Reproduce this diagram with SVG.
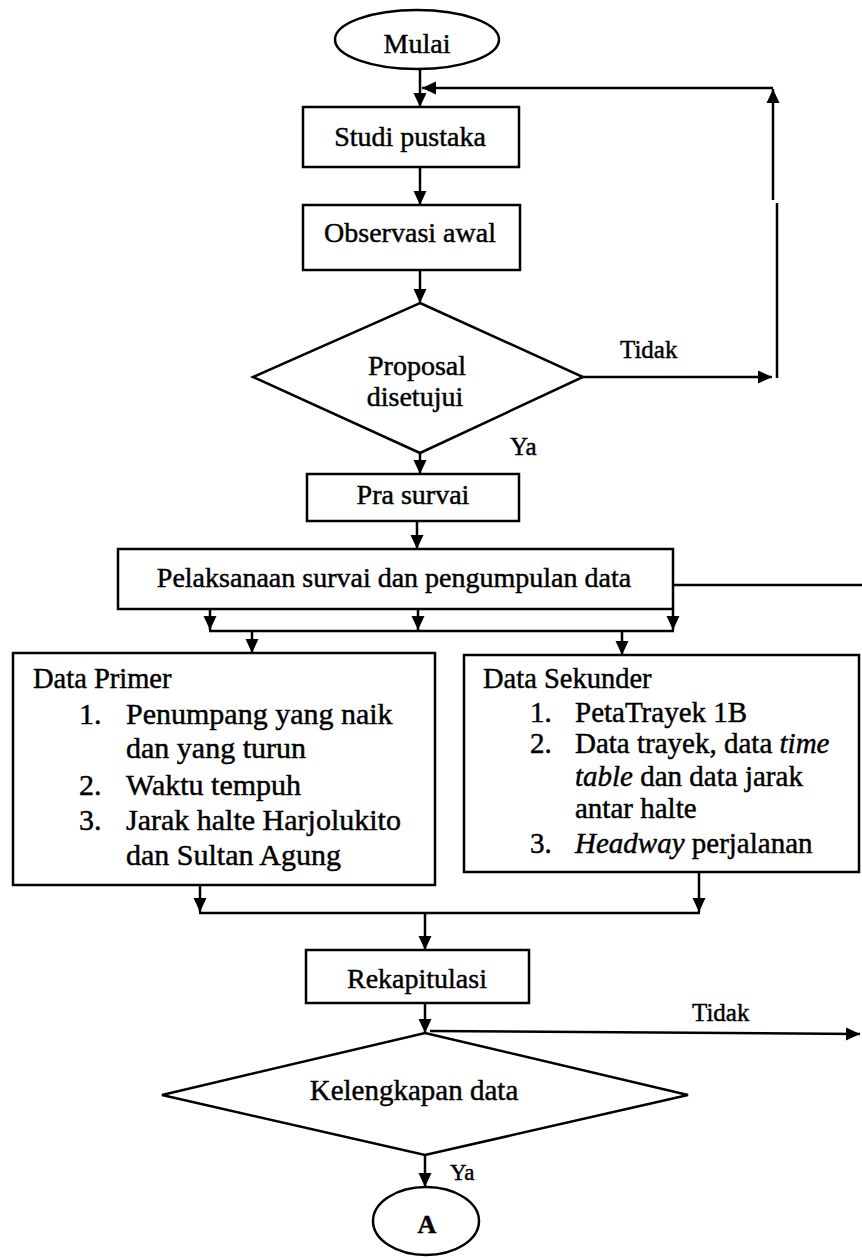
<svg xmlns="http://www.w3.org/2000/svg" width="862" height="1258" viewBox="0 0 862 1258">
<style>
.s{fill:#fff;stroke:#000;stroke-width:2.5}
.c{fill:none;stroke:#000;stroke-width:2.5}
text{font-family:"Liberation Serif","Times New Roman",serif;fill:#000;stroke:#000;stroke-width:0.45}
.m{font-size:28px;text-anchor:middle}
.l{font-size:25px}
.h{font-size:28.5px}
.p{font-size:30px}
.q{font-size:29px}
</style>
<defs>
<marker id="ah" viewBox="0 0 14 14" refX="14" refY="7" markerWidth="14" markerHeight="14" orient="auto" markerUnits="userSpaceOnUse">
<path d="M0,0.5 L14,7 L0,13.5 z" fill="#000"/>
</marker>
</defs>
<rect width="862" height="1258" fill="#fff"/>
<g id="connectors">
<path class="c" d="M420,69 L420,107" marker-end="url(#ah)"/>
<path class="c" d="M773,88 L422,88" marker-end="url(#ah)"/>
<path class="c" d="M420,167 L420,205" marker-end="url(#ah)"/>
<path class="c" d="M420,270 L420,303" marker-end="url(#ah)"/>
<path class="c" d="M583,377 L772,377" marker-end="url(#ah)"/>
<path class="c" d="M777,378 L777,203 M773,200 L773,89" marker-end="url(#ah)"/>
<path class="c" d="M420,453 L420,474" marker-end="url(#ah)"/>
<path class="c" d="M417,521 L417,549" marker-end="url(#ah)"/>
<path class="c" d="M673,585 L862,585"/>
<path class="c" d="M210,609 L210,630" marker-end="url(#ah)"/>
<path class="c" d="M418,609 L418,630" marker-end="url(#ah)"/>
<path class="c" d="M673,609 L673,630" marker-end="url(#ah)"/>
<path class="c" d="M209,631 L674,631"/>
<path class="c" d="M252,631 L252,653" marker-end="url(#ah)"/>
<path class="c" d="M622,631 L622,655" marker-end="url(#ah)"/>
<path class="c" d="M200,885 L200,912" marker-end="url(#ah)"/>
<path class="c" d="M699,872 L699,912" marker-end="url(#ah)"/>
<path class="c" d="M199,913 L700,913"/>
<path class="c" d="M425,913 L425,950" marker-end="url(#ah)"/>
<path class="c" d="M425,1003 L425,1033" marker-end="url(#ah)"/>
<path class="c" d="M430,1031 L860,1034" marker-end="url(#ah)"/>
<path class="c" d="M425,1155 L425,1187" marker-end="url(#ah)"/>
<text class="l" x="620" y="358">Tidak</text>
<text class="l" x="510" y="455">Ya</text>
<text class="l" x="692" y="1021">Tidak</text>
<text style="font-size:23px" x="450" y="1180">Ya</text>
</g>
<g id="mulai">
<ellipse class="s" cx="417" cy="39.5" rx="82" ry="29.5"/>
<text class="m" x="417" y="53">Mulai</text>
</g>
<g id="studi">
<rect class="s" x="303" y="107" width="216" height="60"/>
<text class="m" x="410" y="146">Studi pustaka</text>
</g>
<g id="observasi">
<rect class="s" x="303" y="205" width="217" height="65"/>
<text class="m" x="410" y="242">Observasi awal</text>
</g>
<g id="proposal">
<polygon class="s" points="420,303 583,377 420,453 253,377"/>
<text class="m" x="417" y="375">Proposal</text>
<text class="m" x="415" y="406">disetujui</text>
</g>
<g id="prasurvai">
<rect class="s" x="307" y="474" width="212" height="47"/>
<text class="m" x="413" y="504">Pra survai</text>
</g>
<g id="pelaksanaan">
<rect class="s" x="118" y="549" width="555" height="60"/>
<text class="m" x="394" y="587">Pelaksanaan survai dan pengumpulan data</text>
</g>
<g id="dataprimer">
<rect class="s" x="13" y="653" width="422" height="232"/>
<text class="h" x="33" y="688">Data Primer</text>
<text class="p" x="79" y="724">1.</text>
<text class="p" x="126" y="724">Penumpang yang naik</text>
<text class="p" x="126" y="758">dan yang turun</text>
<text class="p" x="79" y="795">2.</text>
<text class="p" x="126" y="795">Waktu tempuh</text>
<text class="p" x="79" y="830">3.</text>
<text class="p" x="126" y="830">Jarak halte Harjolukito</text>
<text class="p" x="126" y="865">dan Sultan Agung</text>
</g>
<g id="datasekunder">
<rect class="s" x="464" y="655" width="395" height="217"/>
<text class="h" x="483" y="688">Data Sekunder</text>
<text class="q" x="530" y="722">1.</text>
<text class="q" x="575" y="722">PetaTrayek 1B</text>
<text class="q" x="530" y="753">2.</text>
<text class="q" x="575" y="753">Data trayek, data <tspan font-style="italic">time</tspan></text>
<text class="q" x="575" y="786"><tspan font-style="italic">table</tspan> dan data jarak</text>
<text class="q" x="575" y="818">antar halte</text>
<text class="q" x="530" y="853">3.</text>
<text class="q" x="575" y="853"><tspan font-style="italic">Headway</tspan> perjalanan</text>
</g>
<g id="rekapitulasi">
<rect class="s" x="306" y="950" width="223" height="53"/>
<text class="m" x="417" y="988">Rekapitulasi</text>
</g>
<g id="kelengkapan">
<polygon class="s" points="425,1033 688,1095 425,1155 162,1095"/>
<text class="m" style="font-size:29px" x="414" y="1100">Kelengkapan data</text>
</g>
<g id="a">
<ellipse class="s" cx="426" cy="1221" rx="53" ry="34"/>
<text class="m" style="font-size:26px;font-weight:bold" x="427" y="1233">A</text>
</g>
</svg>
